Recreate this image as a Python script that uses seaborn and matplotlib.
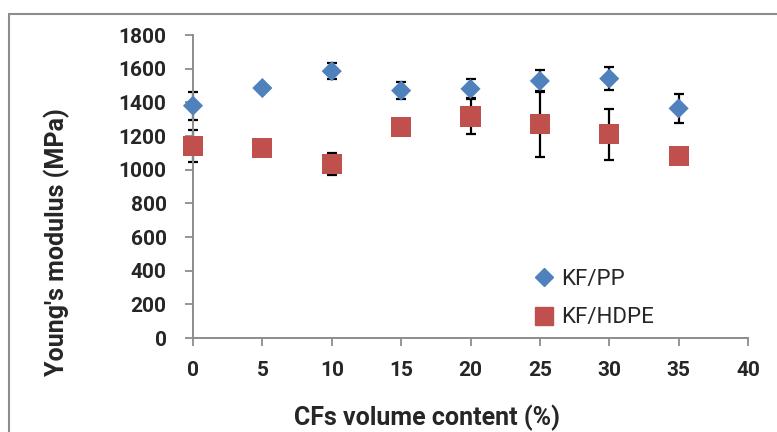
import numpy as np
import pandas as pd
import matplotlib
matplotlib.use("Agg")
import matplotlib.pyplot as plt
from matplotlib.lines import Line2D
import seaborn as sns

# Fibre volume content (%)
cf_content = [0, 5, 10, 15, 20, 25, 30, 35]

# Young's modulus (MPa) and standard deviations
pp_modulus = [1380, 1485, 1585, 1470, 1480, 1527, 1541, 1364]
pp_err = [82, 18, 48, 52, 57, 68, 68, 87]
hdpe_modulus = [1139, 1131, 1036, 1256, 1316, 1270, 1210, 1083]
hdpe_err = [96, 25, 65, 25, 103, 195, 152, 20]

series_names = ["KF/PP", "KF/HDPE"]
x_ticks = [0, 5, 10, 15, 20, 25, 30, 35, 40]
y_ticks = [0, 200, 400, 600, 800, 1000, 1200, 1400, 1600, 1800]

BLUE = "#4F81BD"
RED = "#C0504D"
AXIS_GREY = "#8C8C8C"
FONT = ["Roboto", "DejaVu Sans"]

sns.set_style("white")
plt.rcParams["font.family"] = FONT

df = pd.DataFrame({
    "content": cf_content * 2,
    "modulus": pp_modulus + hdpe_modulus,
    "err": pp_err + hdpe_err,
    "series": [series_names[0]] * len(cf_content) + [series_names[1]] * len(cf_content),
})

fig = plt.figure(figsize=(7.77, 4.32), dpi=100)
ax = fig.add_axes([193 / 777, 1 - 338 / 432, 555 / 777, 303 / 432])

# error bars underneath the markers
for name in series_names:
    sub = df[df["series"] == name]
    ax.errorbar(sub["content"], sub["modulus"], yerr=sub["err"], fmt="none",
                ecolor="black", elinewidth=1.6, capsize=3.8, capthick=1.6,
                zorder=2, clip_on=False)

sns.scatterplot(data=df, x="content", y="modulus", hue="series", style="series",
                palette={series_names[0]: BLUE, series_names[1]: RED},
                markers={series_names[0]: "D", series_names[1]: "s"},
                size="series", sizes={series_names[0]: 105, series_names[1]: 210},
                edgecolor="none", legend=False, ax=ax, zorder=3, clip_on=False)

ax.set_xlim(0, 40)
ax.set_ylim(0, 1800)
ax.set_xticks(x_ticks)
ax.set_yticks(y_ticks)
ax.set_xticklabels([str(v) for v in x_ticks], fontsize=15, fontweight="bold")
ax.set_yticklabels([str(v) for v in y_ticks], fontsize=15, fontweight="bold")
ax.tick_params(axis="x", direction="out", length=5.5, width=1.3, color=AXIS_GREY,
               pad=11, bottom=True)
ax.tick_params(axis="y", direction="out", length=6, width=1.3, color=AXIS_GREY,
               pad=13, left=True)

for side in ["top", "right"]:
    ax.spines[side].set_visible(False)
for side in ["left", "bottom"]:
    ax.spines[side].set_color(AXIS_GREY)
    ax.spines[side].set_linewidth(1.4)

ax.set_xlabel("CFs volume content (%)", fontsize=18, fontweight="bold")
ax.set_ylabel("Young's modulus (MPa)", fontsize=18, fontweight="bold")
ax.xaxis.set_label_coords(0.4216, -0.221)
ax.yaxis.set_label_coords(-0.2216, 0.317)

handles = [
    Line2D([], [], marker="D", linestyle="none", color=BLUE, markersize=9),
    Line2D([], [], marker="s", linestyle="none", color=RED, markersize=13),
]
ax.legend(handles, series_names, loc="center left", bbox_to_anchor=(0.614, 0.13),
          frameon=False, prop={"family": FONT, "size": 16}, handlelength=0.9,
          handletextpad=0.35, labelspacing=0.8, borderaxespad=0, borderpad=0)

# outer chart frame (left and top edges visible)
fig.add_artist(Line2D([9 / 777, 9 / 777], [0, 1 - 14 / 432], transform=fig.transFigure,
                      color=AXIS_GREY, linewidth=1.5))
fig.add_artist(Line2D([9 / 777, 1], [1 - 14 / 432, 1 - 14 / 432], transform=fig.transFigure,
                      color=AXIS_GREY, linewidth=1.5))

fig.savefig("out.png", dpi=100)
